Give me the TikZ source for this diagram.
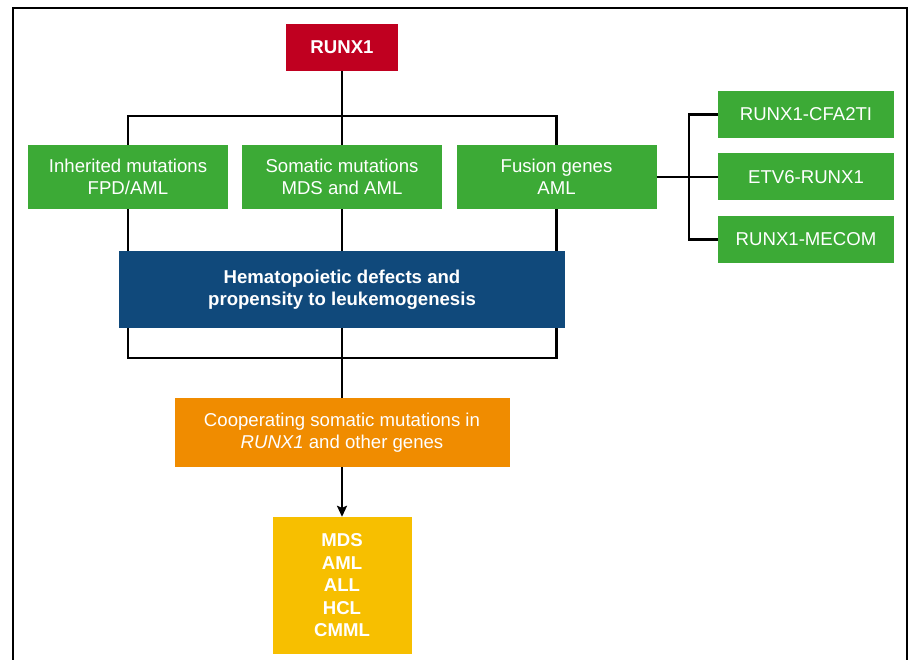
\documentclass[tikz,border=0pt]{standalone}
\usepackage{fontspec}
\setmainfont{Liberation Sans}
\usetikzlibrary{arrows.meta}
\definecolor{rred}{HTML}{C00020}
\definecolor{ggreen}{HTML}{3CAA36}
\definecolor{bblue}{HTML}{10497B}
\definecolor{oorange}{HTML}{F08C00}
\definecolor{yyellow}{HTML}{F7BF00}
\begin{document}
\begin{tikzpicture}[x=1pt,y=-1pt,
  box/.style={rectangle, inner sep=0pt, align=center, text=white,
    font=\fontsize{18.6}{22.5}\selectfont},
  boldbox/.style={box, font=\fontsize{18.6}{22.5}\selectfont\bfseries},
  conn/.style={line width=2.1pt, draw=black}]
\useasboundingbox (0,0) rectangle (910,660);
\clip (0,0) rectangle (910,660);
\draw[line width=2.7pt] (13,680) -- (13,8) -- (907,8) -- (907,680);

\node[boldbox, fill=rred, minimum width=112pt, minimum height=47pt] (runx) at (342,47.5) {RUNX1};
\node[box, fill=ggreen, minimum width=200pt, minimum height=64pt] (inh) at (128,177) {Inherited mutations\\FPD/AML};
\node[box, fill=ggreen, minimum width=200pt, minimum height=64pt] (som) at (342,177) {Somatic mutations\\MDS and AML};
\node[box, fill=ggreen, minimum width=200pt, minimum height=64pt] (fus) at (556.5,177) {Fusion genes\\AML};
\node[box, fill=ggreen, minimum width=176pt, minimum height=47pt] (cfa) at (806,114.5) {RUNX1-CFA2TI};
\node[box, fill=ggreen, minimum width=176pt, minimum height=47pt] (etv) at (806,177) {ETV6-RUNX1};
\node[box, fill=ggreen, minimum width=176pt, minimum height=47pt] (mec) at (806,239.5) {RUNX1-MECOM};
\node[boldbox, fill=bblue, minimum width=446pt, minimum height=77pt] (hema) at (342,289.5) {Hematopoietic defects and\\propensity to leukemogenesis};
\node[box, fill=oorange, minimum width=335pt, minimum height=69pt] (coop) at (342,432.5) {Cooperating somatic mutations in\\\textit{RUNX1} and other genes};
\node[boldbox, fill=yyellow, minimum width=139pt, minimum height=137pt] (dis) at (342,585.5) {MDS\\AML\\ALL\\HCL\\CMML};

\draw[conn] (runx.south) -- (som.north);
\draw[conn] (inh.north) -- ++(0,-29) -| (fus.north);
\draw[conn] (inh.south) -- (inh.south |- hema.north);
\draw[conn] (som.south) -- (som.south |- hema.north);
\draw[conn] (fus.south) -- (fus.south |- hema.north);
\draw[conn] (inh.south |- hema.south) -- ++(0,30) -| (fus.south |- hema.south);
\draw[conn] (hema.south) -- (coop.north);
\draw[conn] (fus.east) -- (etv.west);
\draw[conn] (cfa.west) -- ++(-29,0) |- (mec.west);
\draw[conn, -{Stealth[length=11pt,width=10pt,inset=2pt]}] (coop.south) -- (dis.north);
\end{tikzpicture}
\end{document}
